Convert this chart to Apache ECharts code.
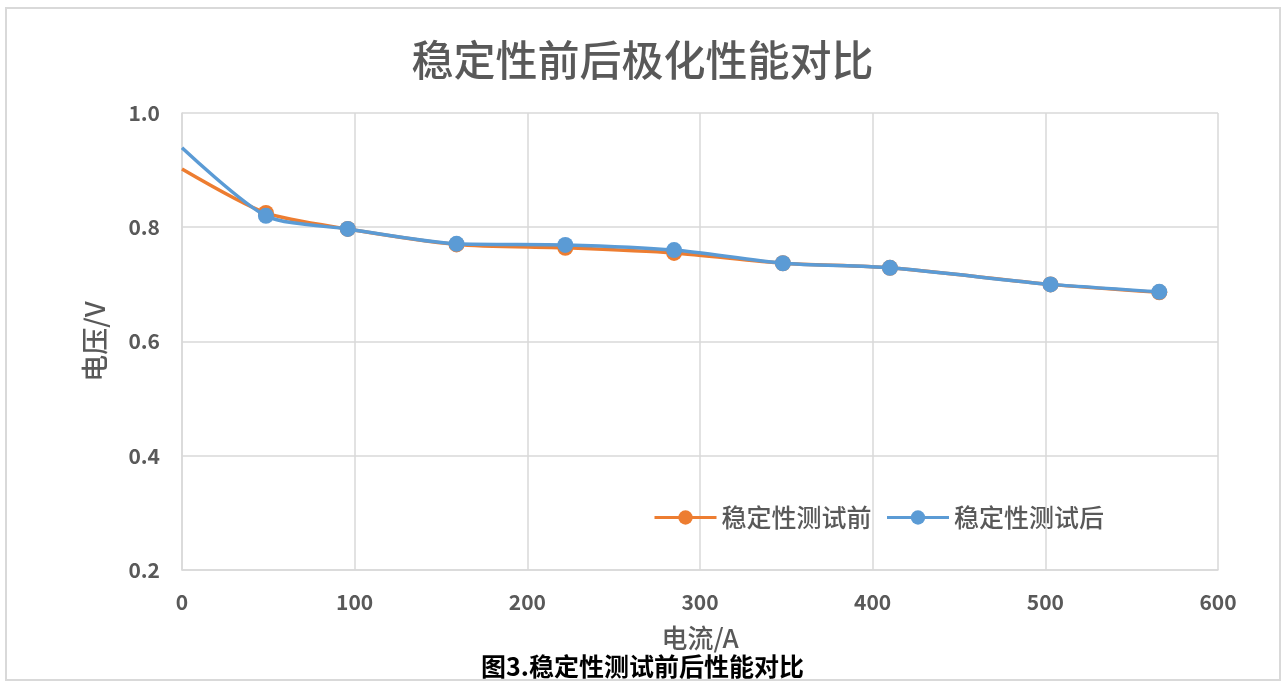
<!DOCTYPE html>
<html>
<head>
<meta charset="utf-8">
<script src="https://cdn.jsdelivr.net/npm/echarts@6/dist/echarts.min.js"></script>
<style>
  html, body { margin: 0; padding: 0; background: #ffffff; }
  #chart { width: 1285px; height: 684px; }
</style>
</head>
<body>
<div id="chart"></div>
<script>
// Current (A) at each measurement point
const currents = [0, 48.6, 96, 159, 222, 285, 348, 410, 503, 566];
// Cell voltage (V) before the stability test
const voltageBefore = [0.902, 0.825, 0.797, 0.770, 0.764, 0.755, 0.737, 0.729, 0.700, 0.686];
// Cell voltage (V) after the stability test
const voltageAfter = [0.939, 0.820, 0.797, 0.771, 0.769, 0.760, 0.737, 0.729, 0.700, 0.687];

const seriesNames = ['稳定性测试前', '稳定性测试后'];
const titleText = '稳定性前后极化性能对比';
const captionText = '图3.稳定性测试前后性能对比';
const xAxisName = '电流/A';
const yAxisName = '电压/V';

const FONT = '"Noto Sans CJK SC", "Noto Sans", sans-serif';
const GREY = '#595959';
const GRID = '#d9d9d9';

function toPoints(xs, ys) {
  // the first point sits on the y axis and is drawn without a marker
  return xs.map((x, i) => i === 0
    ? { value: [x, ys[i]], symbol: 'none' }
    : { value: [x, ys[i]] });
}

const chart = echarts.init(document.getElementById('chart'), null, { renderer: 'canvas' });

chart.setOption({
  backgroundColor: '#ffffff',
  animation: false,
  graphic: [
    {
      type: 'rect',
      z: -10,
      shape: { x: 6, y: 8, width: 1274, height: 672 },
      style: { fill: '#ffffff', stroke: GRID, lineWidth: 2 }
    },
    {
      type: 'text',
      left: 'center',
      top: 654,
      style: {
        text: captionText,
        font: 'bold 25px ' + FONT,
        fill: '#000000'
      }
    }
  ],
  title: {
    text: titleText,
    left: 'center',
    top: 34,
    textStyle: { fontFamily: FONT, fontSize: 42, fontWeight: 500, color: GREY }
  },
  legend: {
    left: 648,
    top: 500,
    itemWidth: 62,
    itemHeight: 18,
    itemGap: 14,
    lineStyle: { width: 3 },
    textStyle: { fontFamily: FONT, fontSize: 25, fontWeight: 500, color: GREY },
    data: seriesNames
  },
  grid: { left: 182, right: 67, top: 113, bottom: 114, containLabel: false },
  xAxis: {
    type: 'value',
    min: 0,
    max: 600,
    interval: 100,
    name: xAxisName,
    nameLocation: 'middle',
    nameGap: 55,
    nameTextStyle: { fontFamily: FONT, fontSize: 26, fontWeight: 500, color: GREY },
    axisLine: { show: true, lineStyle: { color: GRID, width: 1.5 } },
    axisTick: { show: false },
    axisLabel: { fontFamily: FONT, fontSize: 21, fontWeight: 'bold', color: GREY, margin: 22 },
    splitLine: { show: true, lineStyle: { color: GRID, width: 1.5 } }
  },
  yAxis: {
    type: 'value',
    min: 0.2,
    max: 1.0,
    interval: 0.2,
    name: yAxisName,
    nameLocation: 'middle',
    nameGap: 74,
    nameRotate: 90,
    nameTextStyle: { fontFamily: FONT, fontSize: 27, fontWeight: 500, color: GREY },
    axisLine: { show: true, lineStyle: { color: GRID, width: 1.5 } },
    axisTick: { show: false },
    axisLabel: {
      fontFamily: FONT, fontSize: 21, fontWeight: 'bold', color: GREY, margin: 22,
      formatter: v => v.toFixed(1)
    },
    splitLine: { show: true, lineStyle: { color: GRID, width: 1.5 } }
  },
  series: [
    {
      name: seriesNames[0],
      type: 'line',
      smooth: 0.25,
      data: toPoints(currents, voltageBefore),
      symbol: 'circle',
      symbolSize: 16,
      itemStyle: { color: '#ED7D31' },
      lineStyle: { color: '#ED7D31', width: 3.5 },
      z: 2
    },
    {
      name: seriesNames[1],
      type: 'line',
      smooth: 0.25,
      data: toPoints(currents, voltageAfter),
      symbol: 'circle',
      symbolSize: 16,
      itemStyle: { color: '#5B9BD5' },
      lineStyle: { color: '#5B9BD5', width: 3.5 },
      z: 3
    }
  ]
});
</script>
</body>
</html>
